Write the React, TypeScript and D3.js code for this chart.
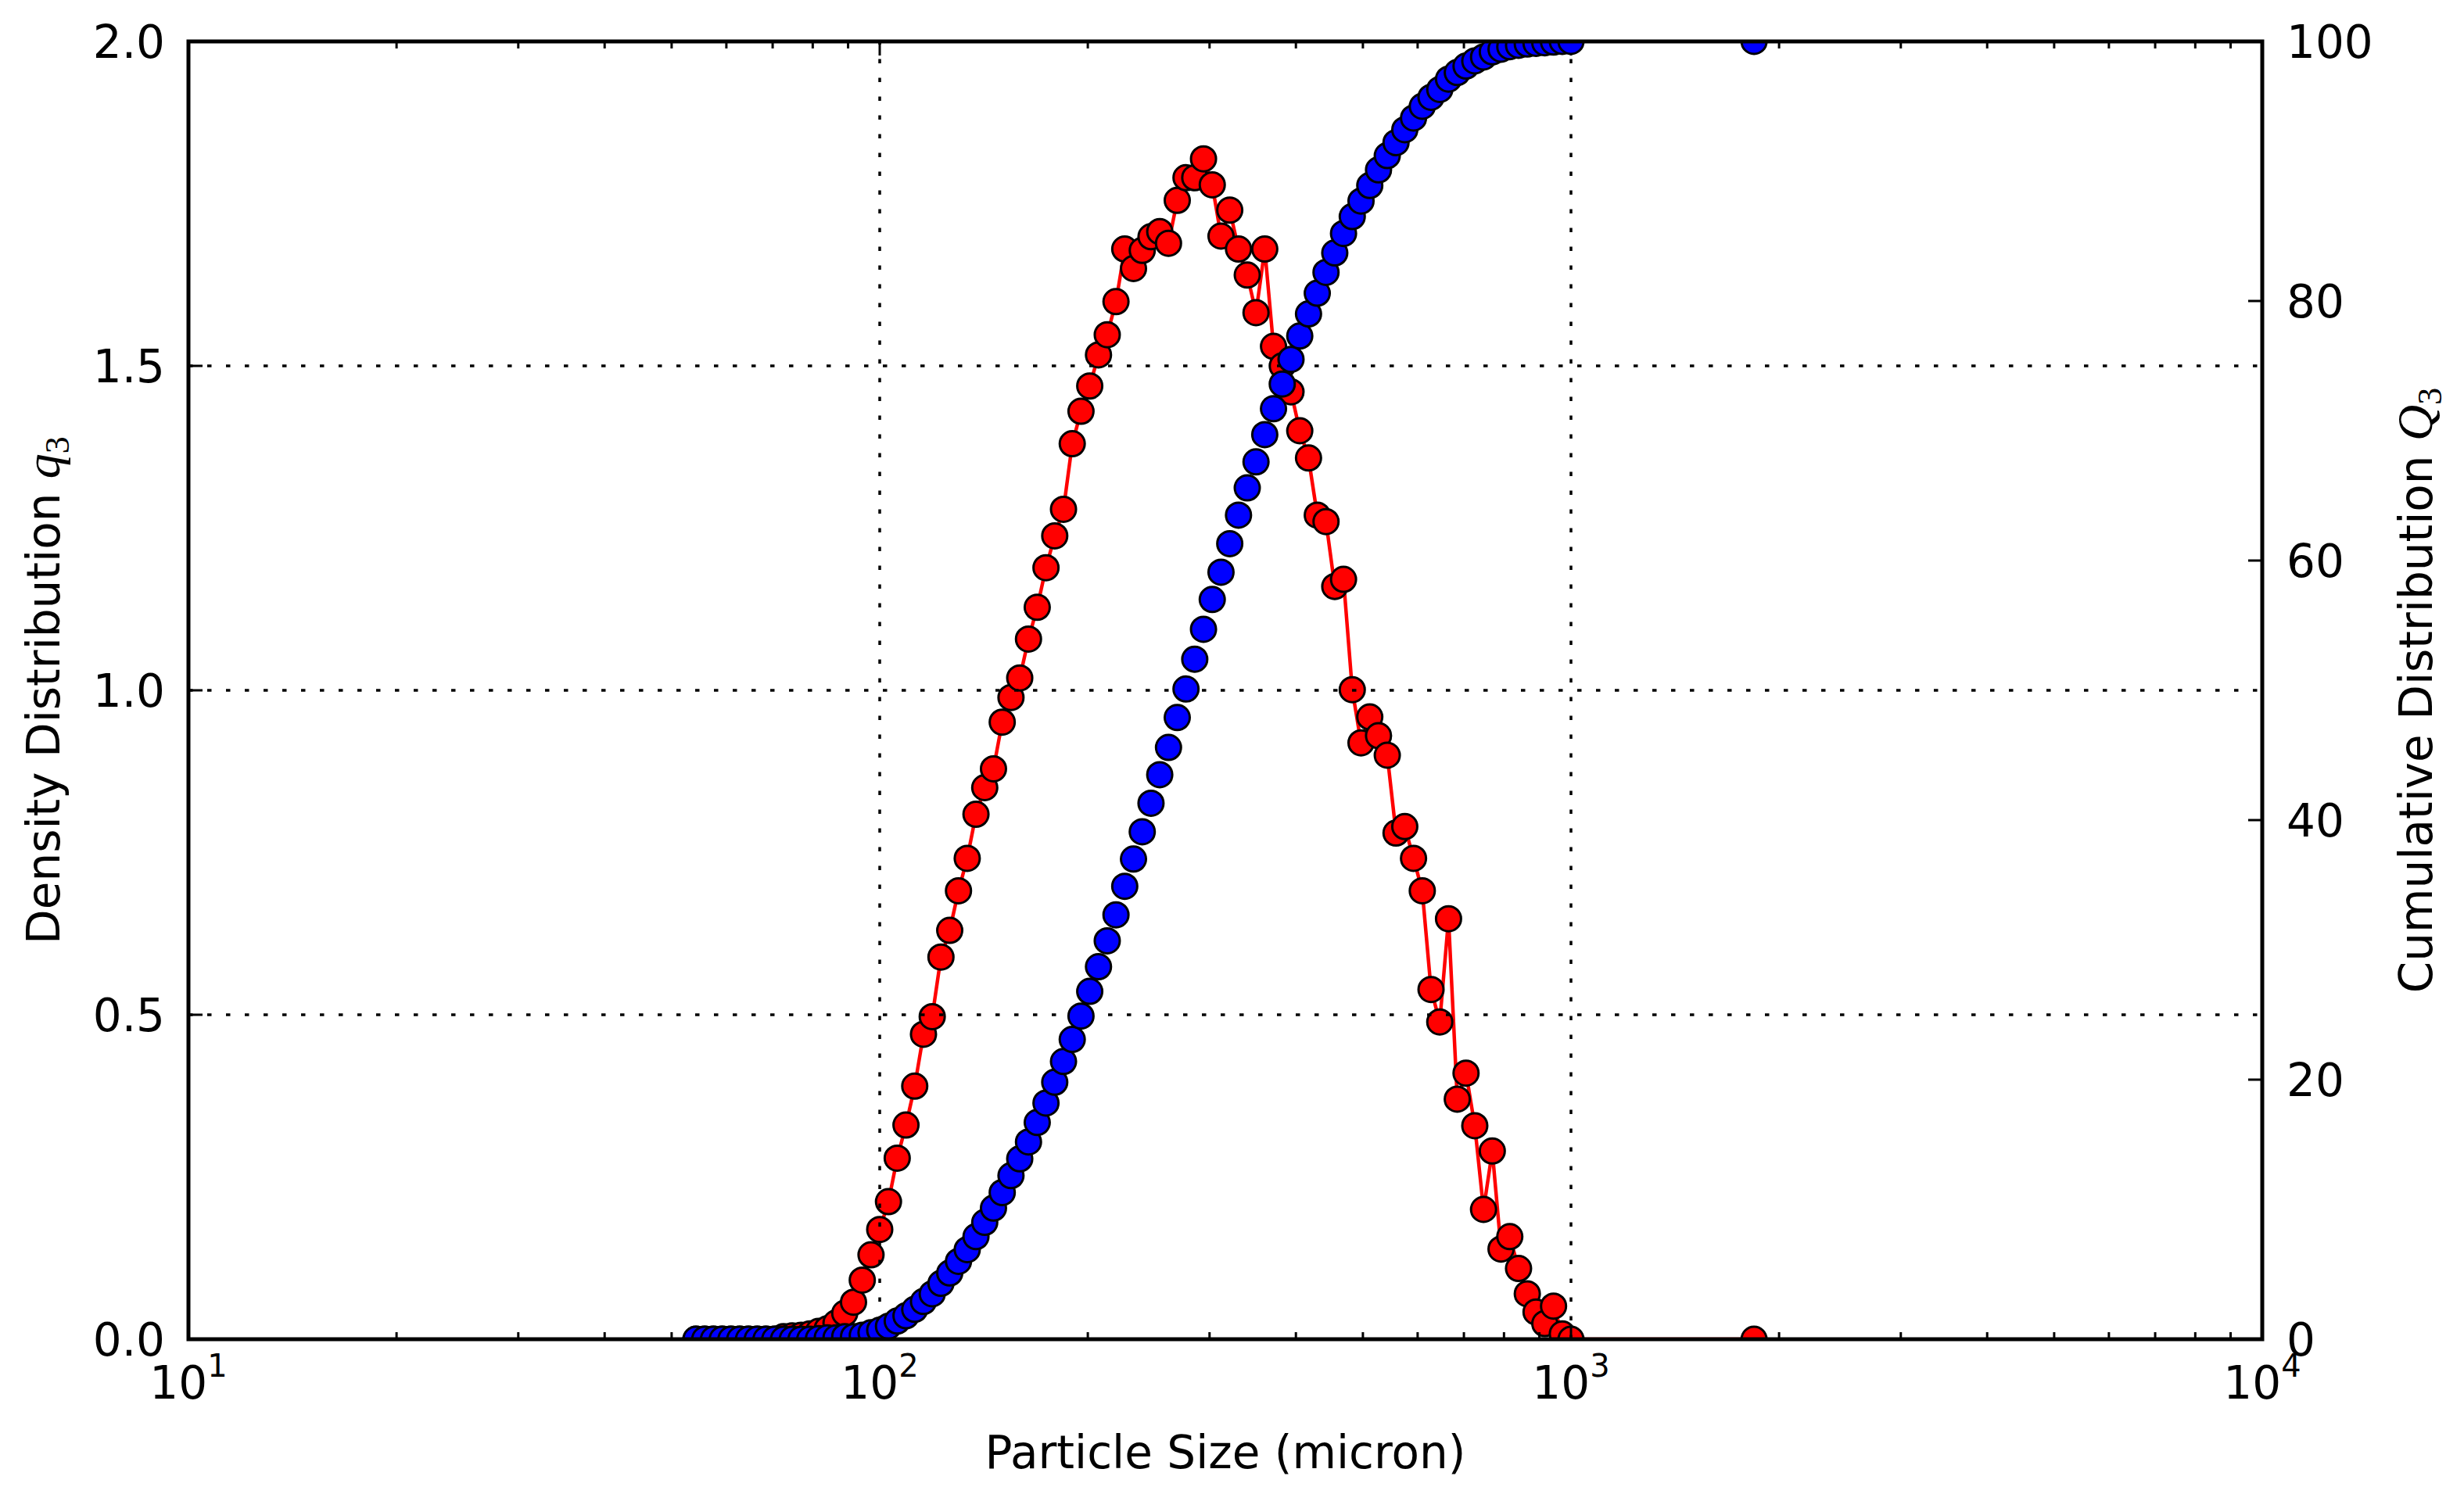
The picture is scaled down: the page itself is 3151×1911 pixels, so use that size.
import React from 'react';
import * as d3 from 'd3';

// particle size classes (micron), log-spaced, plus the coarse tail class
const sizes = [
  54.22, 55.82, 57.47, 59.17, 60.92, 62.73, 64.58, 66.49, 68.46, 70.49,
  72.57, 74.72, 76.93, 79.21, 81.55, 83.96, 86.45, 89.0, 91.64, 94.35,
  97.14, 100.0, 102.96, 106.0, 109.14, 112.37, 115.69, 119.11, 122.63, 126.26,
  130.0, 133.84, 137.8, 141.88, 146.07, 150.39, 154.84, 159.42, 164.14, 168.99,
  173.99, 179.14, 184.44, 189.89, 195.51, 201.29, 207.24, 213.37, 219.68, 226.18,
  232.87, 239.76, 246.85, 254.15, 261.67, 269.41, 277.38, 285.58, 294.03, 302.73,
  311.68, 320.9, 330.39, 340.16, 350.22, 360.58, 371.25, 382.23, 393.53, 405.17,
  417.16, 429.5, 442.2, 455.28, 468.75, 482.61, 496.89, 511.59, 526.72, 542.3,
  558.34, 574.85, 591.86, 609.36, 627.39, 645.94, 665.05, 684.72, 704.97, 725.83,
  747.3, 769.4, 792.16, 815.59, 839.71, 864.55, 890.12, 916.45, 943.56, 971.47,
  1000.0, 1840.0,
];

// density distribution q3 (left axis)
const densityQ3 = [
  0, 0, 0, 0, 0, 0, 0, 0, 0, 0,
  0.004, 0.005, 0.006, 0.008, 0.012, 0.016, 0.025, 0.04, 0.057, 0.091,
  0.13, 0.169, 0.212, 0.279, 0.33, 0.39, 0.47, 0.497, 0.589, 0.63,
  0.691, 0.741, 0.809, 0.85, 0.879, 0.951, 0.989, 1.019, 1.079, 1.128,
  1.189, 1.238, 1.279, 1.38, 1.43, 1.469, 1.517, 1.548, 1.599, 1.68,
  1.65, 1.678, 1.699, 1.707, 1.689, 1.755, 1.79, 1.79, 1.819, 1.779,
  1.7, 1.74, 1.68, 1.64, 1.582, 1.68, 1.53, 1.5, 1.46, 1.4,
  1.358, 1.27, 1.26, 1.16, 1.171, 1.001, 0.919, 0.959, 0.93, 0.9,
  0.78, 0.79, 0.741, 0.691, 0.539, 0.489, 0.648, 0.37, 0.41, 0.329,
  0.2, 0.29, 0.139, 0.158, 0.109, 0.07, 0.042, 0.024, 0.051, 0.008,
  0, 0,
];

// cumulative distribution Q3 in % (right axis)
const cumulativeQ3 = [
  0, 0, 0, 0, 0, 0, 0, 0, 0, 0,
  0, 0, 0, 0, 0.05, 0.1, 0.1, 0.2, 0.2, 0.3,
  0.5, 0.7, 1.0, 1.4, 1.8, 2.3, 2.9, 3.5, 4.3, 5.1,
  6.0, 6.9, 7.9, 9.0, 10.1, 11.3, 12.6, 13.9, 15.2, 16.7,
  18.2, 19.8, 21.4, 23.1, 24.9, 26.8, 28.7, 30.7, 32.7, 34.9,
  37.0, 39.1, 41.3, 43.5, 45.6, 47.9, 50.1, 52.4, 54.7, 57.0,
  59.1, 61.3, 63.5, 65.6, 67.6, 69.7, 71.7, 73.6, 75.5, 77.3,
  79.0, 80.6, 82.2, 83.7, 85.2, 86.5, 87.7, 88.9, 90.1, 91.2,
  92.2, 93.2, 94.1, 95.0, 95.7, 96.3, 97.1, 97.6, 98.1, 98.5,
  98.8, 99.2, 99.4, 99.6, 99.7, 99.8, 99.85, 99.9, 99.95, 100,
  100, 100,
];

const xDecades = [1, 2, 3, 4];
const leftTicks = [0, 0.5, 1.0, 1.5, 2.0];
const rightTicks = [0, 20, 40, 60, 80, 100];

const W = 3151;
const H = 1911;
const L = 241;
const R = 2893;
const T = 53;
const B = 1713;
const FONT = 'DejaVu Sans';
const FS = 58;

const App: React.FC = () => {
  const x = d3.scaleLog().domain([10, 10000]).range([L, R]);
  const yL = d3.scaleLinear().domain([0, 2]).range([B, T]);
  const yR = d3.scaleLinear().domain([0, 100]).range([B, T]);

  const redLine = d3.line<number>()
    .x((_, i) => x(sizes[i]))
    .y(d => yL(d));

  const minor: number[] = [];
  [10, 100, 1000].forEach(dec => {
    for (let m = 2; m <= 9; m++) minor.push(m * dec);
  });
  const majorX = xDecades.map(e => Math.pow(10, e));

  return (
    <svg
      width={W}
      height={H}
      viewBox={`0 0 ${W} ${H}`}
      style={{ position: 'absolute', left: 0, top: 0, display: 'block', background: '#fff' }}
      fontFamily={FONT}
    >
      <defs>
        <clipPath id="plot">
          <rect x={L} y={T} width={R - L} height={B - T} />
        </clipPath>
      </defs>
      <rect x={0} y={0} width={W} height={H} fill="#fff" />

      {/* density series */}
      <g clipPath="url(#plot)">
        <path d={redLine(densityQ3) || ''} fill="none" stroke="#ff0000" strokeWidth={4.5} />
        {densityQ3.map((d, i) => (
          <circle key={i} cx={x(sizes[i])} cy={yL(d)} r={16} fill="#ff0000" stroke="#000" strokeWidth={3} />
        ))}
      </g>

      {/* grid (left axis) */}
      <g stroke="#000" strokeWidth={3.5} strokeDasharray="5.5,18.5">
        {majorX.slice(1, 3).map(v => (
          <line key={v} x1={x(v)} x2={x(v)} y1={B} y2={T} />
        ))}
        {leftTicks.slice(1, 4).map(v => (
          <line key={v} x1={L} x2={R} y1={yL(v)} y2={yL(v)} />
        ))}
      </g>

      {/* x ticks, bottom and top, inward */}
      <g stroke="#000" strokeWidth={3}>
        {majorX.map(v => (
          <g key={v}>
            <line x1={x(v)} x2={x(v)} y1={B} y2={B - 18} />
            <line x1={x(v)} x2={x(v)} y1={T} y2={T + 18} />
          </g>
        ))}
        {minor.map(v => (
          <g key={v}>
            <line x1={x(v)} x2={x(v)} y1={B} y2={B - 9} />
            <line x1={x(v)} x2={x(v)} y1={T} y2={T + 9} />
          </g>
        ))}
        {leftTicks.map(v => (
          <line key={v} x1={L} x2={L + 18} y1={yL(v)} y2={yL(v)} />
        ))}
      </g>

      {/* cumulative series */}
      <g clipPath="url(#plot)">
        {cumulativeQ3.map((d, i) => (
          <circle key={i} cx={x(sizes[i])} cy={yR(d)} r={16} fill="#0000ff" stroke="#000" strokeWidth={3} />
        ))}
      </g>

      {/* right ticks */}
      <g stroke="#000" strokeWidth={3}>
        {rightTicks.map(v => (
          <line key={v} x1={R} x2={R - 18} y1={yR(v)} y2={yR(v)} />
        ))}
      </g>

      {/* spines */}
      <rect x={L} y={T} width={R - L} height={B - T} fill="none" stroke="#000" strokeWidth={5} />

      {/* tick labels */}
      <g fontSize={FS} fill="#000">
        {leftTicks.map(v => (
          <text key={v} x={L - 30} y={yL(v) + 21} textAnchor="end">{d3.format('.1f')(v)}</text>
        ))}
        {rightTicks.map(v => (
          <text key={v} x={R + 31} y={yR(v) + 21} textAnchor="start">{v}</text>
        ))}
        {xDecades.map(e => (
          <text key={e} x={x(Math.pow(10, e))} y={1789} textAnchor="middle">
            <tspan>10</tspan>
            <tspan dy={-28} fontSize={40}>{e}</tspan>
          </text>
        ))}
      </g>

      {/* axis labels */}
      <text x={(L + R) / 2} y={1878} textAnchor="middle" fontSize={FS}>Particle Size (micron)</text>
      <text transform={`translate(76, ${(T + B) / 2}) rotate(-90)`} textAnchor="middle" fontSize={FS}>
        <tspan>Density Distribution </tspan>
        <tspan fontFamily="Liberation Serif" fontStyle="italic" fontSize={64}>q</tspan>
        <tspan fontFamily="Liberation Serif" fontSize={44} dy={12}>3</tspan>
      </text>
      <text transform={`translate(3110, ${(T + B) / 2}) rotate(-90)`} textAnchor="middle" fontSize={FS}>
        <tspan>Cumulative Distribution </tspan>
        <tspan fontFamily="Liberation Serif" fontStyle="italic" fontSize={64}>Q</tspan>
        <tspan fontFamily="Liberation Serif" fontSize={44} dy={12}>3</tspan>
      </text>
    </svg>
  );
};

export default App;
